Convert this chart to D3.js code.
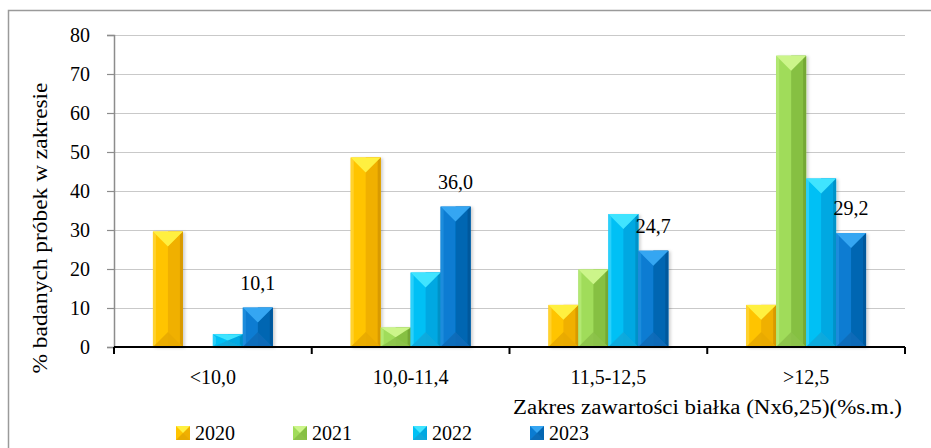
<!DOCTYPE html>
<html>
<head>
<meta charset="utf-8">
<script src="https://cdn.jsdelivr.net/npm/d3@7"></script>
<style>
  html, body { margin: 0; padding: 0; background: #fff; }
  svg { display: block; }
</style>
</head>
<body>
<svg id="chart" width="931" height="448"></svg>
<script>
const categories = ["<10,0", "10,0-11,4", "11,5-12,5", ">12,5"];
const years = ["2020", "2021", "2022", "2023"];
const values2020 = [29.6, 48.6, 10.8, 10.8];
const values2021 = [0, 5.0, 19.9, 74.7];
const values2022 = [3.3, 19.1, 34.1, 43.2];
const values2023 = [10.1, 36.0, 24.7, 29.2];
const labels2023 = ["10,1", "36,0", "24,7", "29,2"];
const yTicks = [0, 10, 20, 30, 40, 50, 60, 70, 80];
const yTitle = "% badanych próbek w zakresie";
const xTitle = "Zakres zawartości białka (Nx6,25)(%s.m.)";

(function () {
const FONT = '"Liberation Serif", "Times New Roman", serif';
const FS = 20;
const seriesValues = [values2020, values2021, values2022, values2023];
const palette = {
  "2020": { base: "#FFC400", right: "#F0B000", top: "#FFF040", bottom: "#E8AA00", edgeL: "#FFD22E", edgeR: "#D89A00" },
  "2021": { base: "#A0DC5A", right: "#86C043", top: "#CCF58A", bottom: "#8CC24A", edgeL: "#B2E872", edgeR: "#74A834" },
  "2022": { base: "#00C0F5", right: "#00A8E2", top: "#40E4FF", bottom: "#10A8DC", edgeL: "#2CD0FA", edgeR: "#0092C8" },
  "2023": { base: "#0A7CD2", right: "#0466B2", top: "#36A6F2", bottom: "#0C6CB8", edgeL: "#1E8CDC", edgeR: "#02589C" }
};

const svg = d3.select("#chart");
const pL = 114, pR = 905, pT = 35, pB = 347;

const x = d3.scaleBand().domain(categories).range([pL, pR]).padding(0);
const xs = d3.scaleBand().domain(years).range([0, x.bandwidth()]).paddingInner(0).paddingOuter(1.3);
const y = d3.scaleLinear().domain([0, 80]).range([pB, pT]);

function txt(sel) {
  return sel.style("font-family", FONT).style("font-size", FS + "px").style("fill", "#000");
}

// outer frame
svg.append("path")
  .attr("d", `M8.5,448 L8.5,10.5 L931,10.5`)
  .attr("fill", "none").attr("stroke", "#9a9a9a").attr("stroke-width", 1.5);

// gridlines
svg.append("g").selectAll("line")
  .data(yTicks.filter(t => t > 0))
  .join("line")
  .attr("x1", pL).attr("x2", pR)
  .attr("y1", d => Math.round(y(d)) + 0.5).attr("y2", d => Math.round(y(d)) + 0.5)
  .attr("stroke", "#c9c9c9").attr("stroke-width", 1);

// y axis
const yAxis = svg.append("g").attr("transform", `translate(${pL},0)`)
  .call(d3.axisLeft(y).tickValues(yTicks).tickSize(7).tickPadding(17).tickFormat(d3.format("d")));
yAxis.select(".domain").attr("stroke", "#8c8c8c").attr("stroke-width", 1.5);
yAxis.selectAll(".tick line").attr("stroke", "#8c8c8c").attr("stroke-width", 1.2);
txt(yAxis.selectAll(".tick text")).attr("dy", "0.34em");

// shadow
const defs = svg.append("defs");
const f = defs.append("filter").attr("id", "sh").attr("x", "-20%").attr("y", "-10%").attr("width", "150%").attr("height", "130%");
f.append("feDropShadow").attr("dx", 2).attr("dy", 1).attr("stdDeviation", 1.5).attr("flood-color", "#000").attr("flood-opacity", 0.18);

// bars
const barData = [];
categories.forEach((c, ci) => {
  years.forEach((yr, si) => {
    barData.push({ cat: c, year: yr, value: seriesValues[si][ci] });
  });
});

const bars = svg.append("g").selectAll("g.bar")
  .data(barData.filter(d => d.value > 0))
  .join("g").attr("class", "bar")
  .attr("filter", "url(#sh)");

bars.each(function(d) {
  const g = d3.select(this);
  const x0 = x(d.cat) + xs(d.year);
  const w = xs.bandwidth();
  const x1 = x0 + w;
  const yt = y(d.value), yb = y(0);
  const h = yb - yt;
  const cx = x0 + w / 2;
  const dep = Math.min(w / 2, h / 2);
  const e = Math.min(3, w / 8);
  const p = palette[d.year];
  g.append("rect").attr("x", x0).attr("y", yt).attr("width", w).attr("height", h).attr("fill", p.base);
  g.append("rect").attr("x", cx).attr("y", yt).attr("width", w / 2).attr("height", h).attr("fill", p.right);
  g.append("path").attr("d", `M${x0},${yt} L${x0 + e},${yt + e} L${x0 + e},${yb - e} L${x0},${yb} Z`).attr("fill", p.edgeL);
  g.append("path").attr("d", `M${x1},${yt} L${x1 - e},${yt + e} L${x1 - e},${yb - e} L${x1},${yb} Z`).attr("fill", p.edgeR);
  g.append("path").attr("d", `M${x0},${yt} L${x1},${yt} L${cx},${yt + dep} Z`).attr("fill", p.top);
  g.append("path").attr("d", `M${x0},${yb} L${x1},${yb} L${cx},${yb - dep} Z`).attr("fill", p.bottom).attr("opacity", 0.9);
});

// x axis
const xAxisG = svg.append("g").attr("transform", `translate(0,${pB})`);
xAxisG.append("line").attr("x1", pL).attr("x2", pR).attr("y1", 0).attr("y2", 0)
  .attr("stroke", "#000").attr("stroke-width", 2);
const boundaries = categories.map(c => x(c)).concat([pR]);
xAxisG.selectAll("line.t").data(boundaries).join("line").attr("class", "t")
  .attr("x1", d => d).attr("x2", d => d).attr("y1", 0).attr("y2", 7)
  .attr("stroke", "#000").attr("stroke-width", 2);
txt(xAxisG.selectAll("text.cat").data(categories).join("text").attr("class", "cat")
  .attr("x", d => x(d) + x.bandwidth() / 2).attr("y", 37)
  .attr("text-anchor", "middle").text(d => d));

// data labels for 2023
txt(svg.append("g").selectAll("text")
  .data(categories.map((c, i) => ({ cat: c, value: values2023[i], label: labels2023[i] })))
  .join("text")
  .attr("x", d => x(d.cat) + xs("2023") + xs.bandwidth() / 2)
  .attr("y", d => y(d.value) - 18)
  .attr("text-anchor", "middle")
  .text(d => d.label));

// axis titles
txt(svg.append("text").attr("transform", `translate(47,228) rotate(-90)`)
  .attr("text-anchor", "middle")
  .attr("textLength", 291).attr("lengthAdjust", "spacingAndGlyphs")
  .text(yTitle));
txt(svg.append("text").attr("x", 513).attr("y", 414)
  .attr("textLength", 389).attr("lengthAdjust", "spacingAndGlyphs")
  .text(xTitle));

// legend
const legendX = [176, 293, 413, 530];
const lg = svg.append("g").selectAll("g").data(years).join("g")
  .attr("transform", (d, i) => `translate(${legendX[i]},426)`);
lg.each(function(d) {
  const g = d3.select(this);
  const p = palette[d];
  const s = 14;
  g.append("rect").attr("width", s).attr("height", s).attr("fill", p.base);
  g.append("rect").attr("x", s / 2).attr("width", s / 2).attr("height", s).attr("fill", p.right);
  g.append("path").attr("d", `M0,0 L${s},0 L${s / 2},${s / 2} Z`).attr("fill", p.top);
  g.append("path").attr("d", `M0,${s} L${s},${s} L${s / 2},${s / 2} Z`).attr("fill", p.bottom);
  txt(g.append("text").attr("x", s + 5).attr("y", 14).text(d));
});
})();
</script>
</body>
</html>
